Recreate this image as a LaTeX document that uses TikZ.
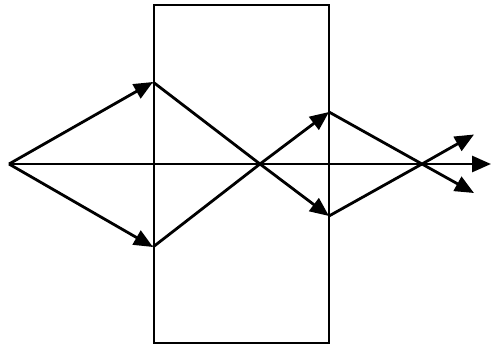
\documentclass[tikz,border=0pt]{standalone}
\usetikzlibrary{arrows.meta}
\begin{document}
\begin{tikzpicture}[x=1pt,y=-1pt,line width=2.8pt,
  ray/.style={-{Triangle[length=19pt,width=16pt]}}]
\useasboundingbox (0,0) rectangle (492,348);
\coordinate (S) at (9,164);
\coordinate (A1) at (153,82);
\coordinate (A2) at (153,247);
\coordinate (C1) at (260,164);
\coordinate (B1) at (329,112);
\coordinate (B2) at (329,216);
\coordinate (C2) at (422,164);
\coordinate (E1) at (474,134.5);
\coordinate (E2) at (474,193);
\coordinate (E0) at (491,164);
\draw (154,5) rectangle (329,343);
\draw[ray] (S) -- (E0);
\draw[ray] (S) -- (A1);
\draw[ray] (S) -- (A2);
\draw (A1) -- (C1);
\draw[ray] (C1) -- (B2);
\draw (A2) -- (C1);
\draw[ray] (C1) -- (B1);
\draw (B1) -- (C2);
\draw[ray] (C2) -- (E2);
\draw (B2) -- (C2);
\draw[ray] (C2) -- (E1);
\end{tikzpicture}
\end{document}
